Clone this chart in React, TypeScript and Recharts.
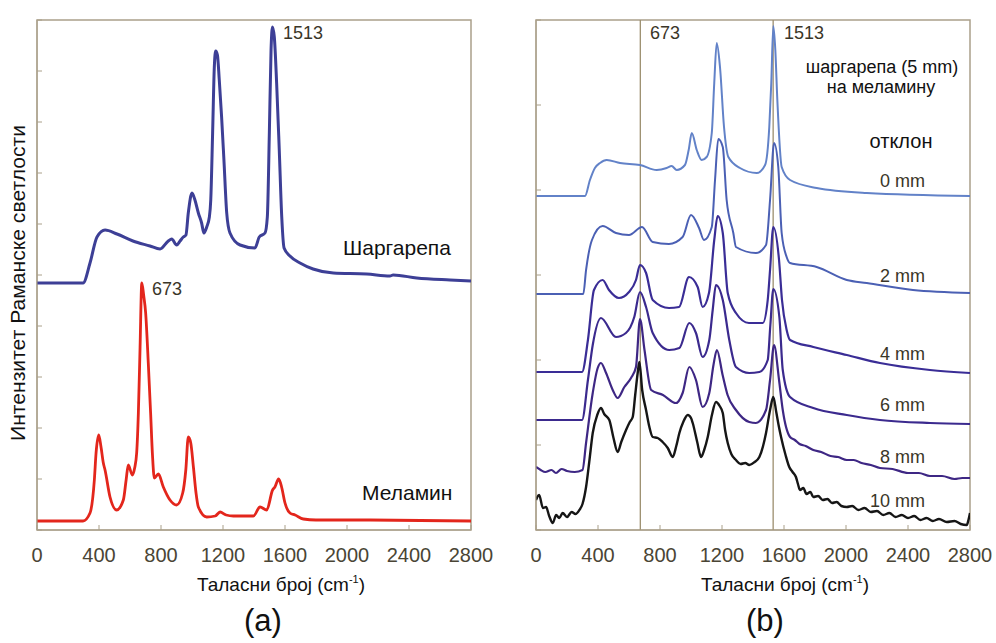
import React from 'react';
import { LineChart, Line, XAxis, YAxis, ReferenceLine, ReferenceArea } from 'recharts';

// wavenumber (cm^-1), intensity (arbitrary units)
const xTicks = [0, 400, 800, 1200, 1600, 2000, 2400, 2800];
const yTicksA = [0, 51, 102, 153, 204, 255, 306, 357, 408, 459, 510];
const yTicksB = [0, 85, 170, 255, 340, 425, 510];
const refLinesB = [673, 1530];

const carrotA = [[0,247],[297,247],[342,267],[387,293],[439,300],[516,296],[619,289],[729,284],[794,281],[847,289],[869,291],[901,285],[923,289],[944,293],[961,295],[976,317],[1000,337],[1019,330],[1041,317],[1062,307],[1077,297],[1095,303],[1112,313],[1121,330],[1133,397],[1144,463],[1153,479],[1164,475],[1176,450],[1191,413],[1206,370],[1224,317],[1245,297],[1310,285],[1406,282],[1434,293],[1471,297],[1486,313],[1499,397],[1510,480],[1519,503],[1531,493],[1546,447],[1563,380],[1579,313],[1594,282],[1632,274],[1697,267],[1781,261],[1912,257],[2127,256],[2277,254],[2298,255],[2450,252],[2665,250],[2800,249]];

const melamineA = [[0,9],[297,9],[342,17],[370,50],[381,77],[398,95],[413,83],[428,67],[439,60],[471,33],[514,20],[557,30],[575,50],[589,65],[615,55],[630,62],[643,77],[654,117],[665,183],[676,247],[688,235],[701,217],[718,167],[733,117],[745,75],[757,52],[783,56],[815,43],[858,30],[901,25],[940,37],[960,60],[976,93],[992,87],[1009,63],[1026,37],[1041,23],[1095,13],[1150,14],[1181,18],[1220,15],[1267,14],[1396,14],[1439,23],[1482,20],[1520,40],[1535,43],[1559,51],[1578,43],[1600,27],[1632,17],[1665,15],[1718,11],[1800,10],[2100,10],[2800,9]];

const b0mm = [[0,334],[316,334],[348,350],[380,362],[413,367],[456,370],[542,367],[671,365],[779,360],[843,362],[875,364],[908,360],[961,365],[985,380],[1005,397],[1037,380],[1069,370],[1101,373],[1134,397],[1150,447],[1166,487],[1187,463],[1213,403],[1241,373],[1316,362],[1424,357],[1478,365],[1505,403],[1518,447],[1531,504],[1544,480],[1557,430],[1585,363],[1639,350],[1811,342],[2134,337],[2800,334]];

const b2mm = [[0,236],[305,236],[323,260],[361,290],[430,304],[516,297],[600,295],[684,303],[753,288],[858,286],[946,293],[1000,315],[1052,302],[1084,290],[1134,303],[1155,350],[1176,391],[1205,383],[1230,330],[1273,297],[1290,283],[1419,277],[1484,285],[1510,330],[1536,387],[1563,363],[1585,297],[1617,273],[1639,267],[1811,263],[2005,250],[2134,247],[2432,240],[2800,237]];

const b4mm = [[0,158],[297,158],[335,190],[374,240],[430,250],[471,240],[535,232],[600,238],[645,250],[671,265],[710,257],[753,230],[858,222],[923,223],[987,253],[1043,243],[1075,223],[1116,237],[1150,290],[1172,314],[1205,297],[1237,237],[1290,217],[1374,207],[1463,207],[1495,230],[1510,260],[1531,303],[1568,270],[1587,230],[1617,200],[1639,190],[1789,183],[2005,175],[2219,167],[2542,160],[2800,157]];

const b6mm = [[0,110],[297,110],[335,150],[366,185],[419,212],[516,193],[580,197],[634,213],[671,238],[710,223],[753,197],[860,180],[925,182],[989,207],[1032,197],[1075,173],[1118,190],[1140,220],[1161,245],[1205,230],[1247,190],[1290,163],[1376,157],[1441,158],[1495,170],[1512,205],[1531,241],[1570,213],[1592,160],[1639,133],[1789,122],[2005,115],[2219,110],[2542,107],[2800,106]];

const b8mm = [[0,63],[30,60],[60,58],[100,60],[129,57],[165,61],[200,59],[250,58],[300,60],[323,87],[366,137],[398,162],[419,167],[452,157],[495,140],[527,132],[570,143],[613,152],[645,163],[671,211],[700,180],[743,140],[819,135],[903,127],[946,137],[989,163],[1032,150],[1075,123],[1118,137],[1145,165],[1167,180],[1204,155],[1236,135],[1290,120],[1376,108],[1419,107],[1484,120],[1510,150],[1536,185],[1568,150],[1592,120],[1639,93],[1670,90],[1700,86],[1740,84],[1789,80],[1840,78],[1900,74],[1950,73],[2005,70],[2050,70],[2100,67],[2160,65],[2219,62],[2300,61],[2400,57],[2470,57],[2542,54],[2620,54],[2700,51],[2750,52],[2800,52]];

const b10mm = [[0,30],[20,35],[45,22],[65,23],[85,14],[108,7],[130,15],[150,12],[172,17],[200,13],[230,18],[255,16],[280,20],[300,26],[323,43],[345,70],[366,97],[395,115],[419,122],[440,116],[473,110],[500,92],[527,78],[550,88],[581,100],[605,108],[624,113],[640,135],[656,157],[667,168],[685,140],[710,120],[730,104],[753,93],[785,92],[817,88],[850,82],[882,73],[905,84],[925,97],[950,108],[979,115],[1000,112],[1011,107],[1040,88],[1065,73],[1085,80],[1108,93],[1135,115],[1161,128],[1185,124],[1205,117],[1220,100],[1237,87],[1260,76],[1290,70],[1320,66],[1350,67],[1376,65],[1410,68],[1441,73],[1465,84],[1484,97],[1510,120],[1531,133],[1550,118],[1565,105],[1581,93],[1610,75],[1634,63],[1655,58],[1677,53],[1690,46],[1703,40],[1725,42],[1745,36],[1770,38],[1789,33],[1820,34],[1850,30],[1880,31],[1910,27],[1940,28],[1970,24],[2005,23],[2040,24],[2080,20],[2120,22],[2160,18],[2200,19],[2240,15],[2280,17],[2320,13],[2360,15],[2400,12],[2440,14],[2480,10],[2520,12],[2560,9],[2600,11],[2650,8],[2700,9],[2740,6],[2779,5],[2790,10],[2800,17]];

const toPts = (a: number[][]) => a.map(([w, v]) => ({ w, v }));

const FONT = "'Liberation Sans', Arial, sans-serif";
const AXIS = '#aaa08a';
const TICK = '#4a4535';

type S = { name: string; data: number[][]; color: string; width: number };

const seriesA: S[] = [
  { name: 'Шаргарепа', data: carrotA, color: '#3d3f96', width: 3 },
  { name: 'Меламин', data: melamineA, color: '#e3261c', width: 2.8 },
];
const seriesB: S[] = [
  { name: '0 mm', data: b0mm, color: '#6282c8', width: 2 },
  { name: '2 mm', data: b2mm, color: '#4b60b4', width: 2 },
  { name: '4 mm', data: b4mm, color: '#3a2d96', width: 2.2 },
  { name: '6 mm', data: b6mm, color: '#3b2a8e', width: 2.2 },
  { name: '8 mm', data: b8mm, color: '#3e2784', width: 2.2 },
  { name: '10 mm', data: b10mm, color: '#161616', width: 2.4 },
];

function XTick(props: any) {
  const { x, y, payload } = props;
  return (
    <g>
      <line x1={x} x2={x} y1={y} y2={y - 5} stroke={AXIS} strokeWidth={1} />
      <text x={x} y={y + 32} textAnchor="middle" fontSize={20} fontFamily={FONT} fill={TICK}>
        {payload.value}
      </text>
    </g>
  );
}

function YTick(props: any) {
  const { x, y } = props;
  return <line x1={x} x2={x + 5} y1={y} y2={y} stroke={AXIS} strokeWidth={1} />;
}

function Panel({ series, yTicks, refLines }: { series: S[]; yTicks: number[]; refLines: number[] }) {
  return (
    <LineChart width={500} height={643} margin={{ top: 20, right: 29, bottom: 83, left: 27 }}>
      <XAxis type="number" dataKey="w" domain={[0, 2800]} ticks={xTicks} interval={0} height={30}
        tickSize={0} tickMargin={0} tickLine={false} stroke={AXIS} allowDataOverflow tick={<XTick />} />
      <YAxis type="number" domain={[0, 510]} ticks={yTicks} interval={0} width={10} tickSize={0}
        tickMargin={0} tickLine={false} stroke={AXIS} allowDataOverflow tick={<YTick />} />
      <ReferenceArea x1={0} x2={2800} y1={0} y2={510} fill="none" stroke={AXIS} strokeWidth={1.5} />
      {refLines.map((x) => (
        <ReferenceLine key={x} x={x} stroke="#9c8e6e" strokeWidth={1.3} />
      ))}
      {series.map((s) => (
        <Line key={s.name} name={s.name} data={toPts(s.data)} dataKey="v" type="monotone"
          stroke={s.color} strokeWidth={s.width} dot={false} isAnimationActive={false} />
      ))}
    </LineChart>
  );
}

function XTitle({ cx }: { cx: number }) {
  return (
    <text x={cx} y={591} textAnchor="middle" fontSize={19} fontFamily={FONT} fill="#111">
      Таласни број (cm<tspan fontSize={11} dy={-8}>-1</tspan><tspan dy={8}>)</tspan>
    </text>
  );
}

export default function App() {
  const olive = '#3a3628';
  return (
    <div style={{ position: 'absolute', left: 0, top: 0, width: 996, height: 643, background: '#fff', overflow: 'hidden' }}>
      <div style={{ position: 'absolute', left: 0, top: 0 }}>
        <Panel series={seriesA} yTicks={yTicksA} refLines={[]} />
      </div>
      <div style={{ position: 'absolute', left: 499, top: 0 }}>
        <Panel series={seriesB} yTicks={yTicksB} refLines={refLinesB} />
      </div>
      <svg width={996} height={643} style={{ position: 'absolute', left: 0, top: 0, pointerEvents: 'none' }}>
        <g fontFamily={FONT}>
          <text transform="translate(25,283) rotate(-90)" textAnchor="middle" fontSize={20} fill="#111"
            textLength={316} lengthAdjust="spacingAndGlyphs">Интензитет Раманске светлости</text>
          {/* panel a */}
          <text x={283} y={39} fontSize={18} fill={olive}>1513</text>
          <text x={343} y={255} fontSize={21} fill="#111">Шаргарепа</text>
          <text x={152} y={295} fontSize={18} fill={olive}>673</text>
          <text x={362} y={500} fontSize={21} fill="#111">Меламин</text>
          <XTitle cx={281} />
          <text x={263} y={631} textAnchor="middle" fontSize={31} fill="#111">(a)</text>
          {/* panel b */}
          <text x={650} y={39} fontSize={18} fill={olive}>673</text>
          <text x={784} y={39} fontSize={18} fill={olive}>1513</text>
          <text x={882} y={73} textAnchor="middle" fontSize={18} fill="#111">шаргарепа (5 mm)</text>
          <text x={881} y={93} textAnchor="middle" fontSize={18} fill="#111">на меламину</text>
          <text x={901} y={148} textAnchor="middle" fontSize={20} fill="#111">отклон</text>
          <text x={925} y={187} textAnchor="end" fontSize={18} fill={olive}>0 mm</text>
          <text x={925} y={282} textAnchor="end" fontSize={18} fill={olive}>2 mm</text>
          <text x={925} y={360} textAnchor="end" fontSize={18} fill={olive}>4 mm</text>
          <text x={925} y={411} textAnchor="end" fontSize={18} fill={olive}>6 mm</text>
          <text x={925} y={463} textAnchor="end" fontSize={18} fill={olive}>8 mm</text>
          <text x={925} y={507} textAnchor="end" fontSize={18} fill={olive}>10 mm</text>
          <XTitle cx={785} />
          <text x={765} y={631} textAnchor="middle" fontSize={31} fill="#111">(b)</text>
        </g>
      </svg>
    </div>
  );
}
